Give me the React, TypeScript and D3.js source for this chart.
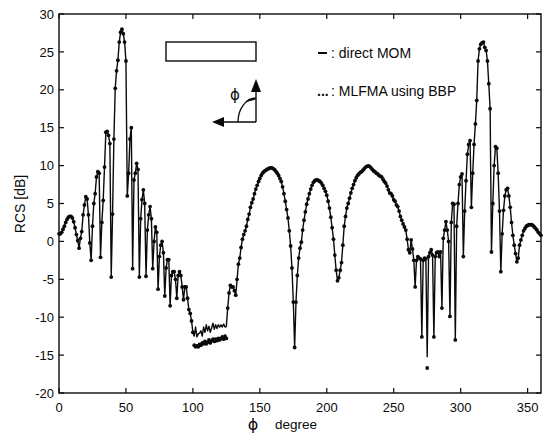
import React from "react";
import * as d3 from "d3";

// x ticks (phi, degree) and y ticks (RCS, dB)
const phiTicks = [0, 50, 100, 150, 200, 250, 300, 350];
const rcsTicks = [-20, -15, -10, -5, 0, 5, 10, 15, 20, 25, 30];

// sampling angles: one sample per degree, 0..360
const phiDeg = d3.range(0, 361);

// direct MOM (solid line), value at phi = index (degree)
const momRcs = [
  // 0-9
  1.0, 1.0, 1.2, 1.6, 2.0, 2.5, 2.9, 3.2, 3.3, 3.3,
  // 10-19
  3.1, 2.6, 1.8, 0.9, 0.1, -0.9, 0.4, 1.3, 3.5, 4.8,
  // 20-29
  5.9, 5.6, 3.5, -0.2, -2.5, 2.0, 5.0, 6.3, 8.5, 9.2,
  // 30-39
  9.0, -2.1, 2.5, 5.4, 9.8, 14.4, 14.5, 14.0, 12.9, -4.7,
  // 40-49
  3.6, 13.5, 20.2, 22.5, 23.9, 26.3, 27.6, 28.0, 27.4, 26.3,
  // 50-59
  23.8, 6.0, 9.0, 13.5, 15.0, -3.6, 8.1, 9.0, 10.3, 9.5,
  // 60-69
  -4.7, 3.0, 5.5, 6.8, 5.0, -4.6, 1.5, 3.5, 4.6, 3.0,
  // 70-79
  -3.6, 0.0, 1.9, 1.2, -6.3, -2.0, -0.5, 0.0, -1.5, -7.2,
  // 80-89
  -3.5, -2.4, -2.4, -8.5, -4.5, -4.0, -4.0, -5.0, -7.5, -4.5,
  // 90-99
  -4.0, -4.5, -6.0, -7.7, -6.0, -6.0, -7.5, -9.0, -9.5, -10.5,
  // 100-109
  -12.0, -12.5, -11.3, -12.6, -12.2, -12.1, -11.8, -12.5, -11.3, -12.0,
  // 110-119
  -11.0, -11.8, -11.2, -12.0, -11.4, -10.8, -11.6, -11.0, -11.5, -11.0,
  // 120-129
  -11.3, -11.0, -11.3, -10.9, -11.3, -11.2, -8.8, -6.8, -5.8, -6.0,
  // 130-139
  -6.0, -6.5, -7.1, -5.0, -3.0, -2.2, -0.8, 0.3, 0.9, 1.4,
  // 140-149
  2.0, 2.9, 3.6, 4.5, 5.1, 5.6, 6.3, 6.9, 7.4, 7.9,
  // 150-159
  8.3, 8.7, 9.0, 9.2, 9.35, 9.45, 9.55, 9.65, 9.7, 9.7,
  // 160-169
  9.6, 9.45, 9.25, 9.0, 8.7, 8.3, 7.9, 7.2, 6.3, 5.3,
  // 170-179
  4.2, 3.1, 1.4, -0.6, -3.5, -8.0, -14.0, -8.0, -4.5, -2.2,
  // 180-189
  -0.9, -0.1, 1.5, 2.8, 3.9, 4.9, 5.6, 6.3, 6.9, 7.4,
  // 190-199
  7.8, 8.0, 8.1, 8.1, 8.0, 7.9, 7.7, 7.4, 7.0, 6.6,
  // 200-209
  6.1, 5.3, 4.4, 3.2, 1.8, 0.3, -1.8, -3.8, -5.2, -4.8,
  // 210-219
  -3.8, -2.8, -0.5, 2.0, 3.3, 4.4, 5.0, 5.7, 6.4, 7.0,
  // 220-229
  7.5, 8.0, 8.4, 8.7, 8.9, 9.1, 9.2, 9.4, 9.6, 9.8,
  // 230-239
  9.9, 9.95, 9.9, 9.7, 9.5, 9.3, 9.2, 9.0, 8.9, 8.7,
  // 240-249
  8.6, 8.5, 8.2, 7.9, 7.7, 7.3, 6.8, 6.4, 6.3, 6.0,
  // 250-259
  5.5, 5.3, 4.8, 4.6, 4.0, 3.3, 2.8, 2.3, 1.9, 1.5,
  // 260-269
  0.3, -1.1, -1.5, 0.2, -1.0, -2.5, -6.0, -2.5, -2.0, -2.2,
  // 270-279
  -2.3, -12.6, -2.5, -2.2, -2.3, -15.2, -2.0, -1.5, -1.1, -1.8,
  // 280-289
  -12.6, -2.0, -1.5, -1.4, -2.0, -1.4, -8.8, 0.4, 1.5, 2.6,
  // 290-299
  1.5, 0.0, -9.9, 2.5, 5.0, 4.9, -13.0, 2.0, 5.0, 7.5,
  // 300-309
  8.5, 8.9, -2.0, 4.0, 8.0, 11.5, 12.8, 13.3, 4.5, 9.0,
  // 310-319
  12.8, 15.5, 18.6, 23.8, 25.4, 26.0, 26.2, 26.3, 25.6, 25.2,
  // 320-329
  23.8, 20.8, 17.5, -1.4, 5.0, 10.0, 12.5, 12.3, 9.0, 4.0,
  // 330-339
  -4.0, 1.0, 4.1, 6.0, 6.8, 7.0, 6.0, 4.5, 2.5, 0.8,
  // 340-349
  -0.5, -1.6, -2.7, -2.2, -0.5, 0.2, 0.8, 1.4, 1.7, 2.0,
  // 350-359
  2.1, 2.2, 2.2, 2.2, 2.1, 1.9, 1.7, 1.5, 1.2, 1.0,
  // 360
  0.8,
];

// MLFMA using BBP (dots): angles where it departs from direct MOM
const mlfmaDiffs: [number, number][] = [
  [101, -13.7], [102, -13.9], [103, -13.8], [104, -13.9], [105, -13.6],
  [106, -13.7], [107, -13.4], [108, -13.5], [109, -13.2], [110, -13.5],
  [111, -13.3], [112, -13.0], [113, -13.4], [114, -13.1], [115, -12.9],
  [116, -13.2], [117, -12.9], [118, -13.1], [119, -12.8], [120, -13.0],
  [121, -12.8], [122, -12.6], [123, -12.9], [124, -12.5], [125, -12.8],
  [275, -16.7],
];

const FONT = "'Liberation Sans', Arial, Helvetica, sans-serif";
const INK = "#0a0a0a";

export default function App() {
  const left = 59, right = 541, top = 14, bottom = 393;
  const x = d3.scaleLinear().domain([0, 360]).range([left, right]);
  const y = d3.scaleLinear().domain([-20, 30]).range([bottom, top]);

  const momPts: [number, number][] = phiDeg.map((p, i) => [p, momRcs[i]]);
  const diffMap = new Map(mlfmaDiffs);
  const mlfmaPts: [number, number][] = phiDeg.map((p, i) => [
    p,
    diffMap.has(p) ? (diffMap.get(p) as number) : momRcs[i],
  ]);

  const line = d3
    .line<[number, number]>()
    .x((d) => x(d[0]))
    .y((d) => y(d[1]));

  const tickLen = 5;

  return (
    <svg
      width={553}
      height={436}
      style={{ position: "absolute", left: 0, top: 0, background: "#fff" }}
      fontFamily={FONT}
    >
      <rect x={0} y={0} width={553} height={436} fill="#fff" />

      {/* data */}
      <path d={line(momPts) || ""} fill="none" stroke={INK} strokeWidth={1.4} strokeLinejoin="round" />
      {mlfmaPts.map((d, i) => (
        <circle key={i} cx={x(d[0])} cy={y(d[1])} r={1.9} fill={INK} />
      ))}

      {/* frame */}
      <rect
        x={left}
        y={top}
        width={right - left}
        height={bottom - top}
        fill="none"
        stroke={INK}
        strokeWidth={1.4}
      />

      {/* x ticks */}
      {phiTicks.map((t) => (
        <g key={"x" + t}>
          <line x1={x(t)} x2={x(t)} y1={bottom} y2={bottom - tickLen} stroke={INK} strokeWidth={1.2} />
          <line x1={x(t)} x2={x(t)} y1={top} y2={top + tickLen} stroke={INK} strokeWidth={1.2} />
          <text x={x(t)} y={412} fontSize={13} textAnchor="middle" fill={INK}>
            {t}
          </text>
        </g>
      ))}

      {/* y ticks */}
      {rcsTicks.map((t) => (
        <g key={"y" + t}>
          <line x1={left} x2={left + tickLen} y1={y(t)} y2={y(t)} stroke={INK} strokeWidth={1.2} />
          <line x1={right} x2={right - tickLen} y1={y(t)} y2={y(t)} stroke={INK} strokeWidth={1.2} />
          <text x={54} y={y(t) + 4.6} fontSize={13} textAnchor="end" fill={INK}>
            {t}
          </text>
        </g>
      ))}

      {/* axis labels */}
      <text
        transform="translate(25,204) rotate(-90)"
        fontSize={14}
        textAnchor="middle"
        fill={INK}
      >
        RCS [dB]
      </text>
      <text x={253} y={430} fontSize={16} textAnchor="middle" fill={INK} fontFamily="'DejaVu Sans', sans-serif">
        ϕ
      </text>
      <text x={275} y={429} fontSize={13.5} fill={INK}>
        degree
      </text>

      {/* object sketch */}
      <rect x={166} y={42} width={90} height={19} fill="none" stroke={INK} strokeWidth={1.4} />
      <line x1={256} y1={122} x2={256} y2={90} stroke={INK} strokeWidth={1.4} />
      <path d="M256,79 L251,92 L261,92 Z" fill={INK} />
      <line x1={256} y1={122} x2={222} y2={122} stroke={INK} strokeWidth={1.4} />
      <path d="M212,122 L224,117 L224,127 Z" fill={INK} />
      <path d="M256,98 A18,24 0 0 0 238,122" fill="none" stroke={INK} strokeWidth={1.3} />
      <path d="M247,101 L255,99" fill="none" stroke={INK} strokeWidth={1.3} />
      <text x={235} y={100} fontSize={15} textAnchor="middle" fill={INK} fontFamily="'DejaVu Sans', sans-serif">
        ϕ
      </text>

      {/* legend */}
      <line x1={318} x2={327} y1={53} y2={53} stroke={INK} strokeWidth={2} />
      <text x={331} y={58} fontSize={14} fill={INK}>
        : direct MOM
      </text>
      <text x={317} y={96} fontSize={14} fill={INK} fontWeight="bold">
        ...
      </text>
      <text x={331} y={96} fontSize={14} fill={INK}>
        : MLFMA using BBP
      </text>
    </svg>
  );
}
